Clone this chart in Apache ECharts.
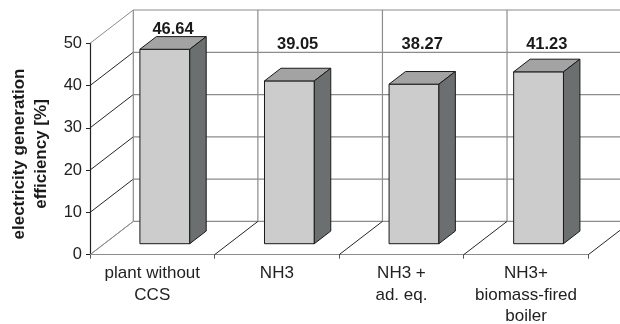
<!DOCTYPE html>
<html>
<head>
<meta charset="utf-8">
<script src="https://cdn.jsdelivr.net/npm/echarts@6/dist/echarts.min.js"></script>
<style>
  html, body { margin: 0; padding: 0; background: #ffffff; }
  #chart { width: 620px; height: 324px; }
</style>
</head>
<body>
<div id="chart"></div>
<script>
// Electricity generation efficiency per plant configuration
var categories = ['plant without\nCCS', 'NH3', 'NH3 +\nad. eq.', 'NH3+\nbiomass-fired\nboiler'];
var efficiency = [46.64, 39.05, 38.27, 41.23];
var yTicks = [0, 10, 20, 30, 40, 50];

var Y_MIN = 0, Y_MAX = 50, Y_STEP = 10;
var FONT = '"Liberation Sans", Arial, sans-serif';

// pseudo-3D box: depth vector of the plot box in pixels
var DEPTH = [43.3, -33.3];
// bar placement inside its category slot
var BAR_OFFSET = 0.286;   // fraction of slot width from slot left edge
var BAR_WIDTH = 0.40;     // fraction of slot width
var BAR_DEPTH_FRONT = 0.33;
var BAR_DEPTH = 0.38;
var BAR_SCALE = 0.986;    // slight shrink of bar height away from the front plane

var GRID_COLOR = '#8c8c8c';
var EDGE_DARK = '#262626';

function add(p, d, f) { return [p[0] + d[0] * f, p[1] + d[1] * f]; }

function line(a, b, color, w) {
  return {
    type: 'line',
    shape: { x1: a[0], y1: a[1], x2: b[0], y2: b[1] },
    style: { stroke: color, lineWidth: w || 1 },
    silent: true
  };
}

// back wall, side wall and floor of the box
function renderFrame(params, api) {
  var n = categories.length;
  var band = api.size([1, 0])[0];
  var left = api.coord([0, Y_MIN])[0] - band / 2;
  var right = left + n * band;
  var children = [];

  yTicks.forEach(function (t) {
    var y = api.coord([0, t])[1];
    var pFront = [left, y];
    var pBack = add(pFront, DEPTH, 1);
    var isEdge = (t === Y_MIN || t === Y_MAX);
    // back wall gridline
    children.push(line(pBack, [right + DEPTH[0], pBack[1]], GRID_COLOR, 1.2));
    // side wall gridline
    children.push(line(pFront, pBack, isEdge ? GRID_COLOR : EDGE_DARK, 1));
  });

  var yBottom = api.coord([0, Y_MIN])[1];
  var yTop = api.coord([0, Y_MAX])[1];
  for (var i = 0; i <= n; i++) {
    var x = left + i * band;
    // back wall vertical divider
    children.push(line(add([x, yBottom], DEPTH, 1), add([x, yTop], DEPTH, 1), GRID_COLOR, 1.2));
    // floor divider
    children.push(line([x, yBottom], add([x, yBottom], DEPTH, 1), i === 0 ? GRID_COLOR : EDGE_DARK, 1));
  }
  return { type: 'group', children: children };
}

function renderBar(params, api) {
  var i = api.value(0);
  var v = api.value(1);
  var band = api.size([1, 0])[0];
  var slotLeft = api.coord([i, Y_MIN])[0] - band / 2;
  var y0 = api.coord([i, Y_MIN])[1];
  var yv = api.coord([i, v])[1];
  var yTop = y0 - (y0 - yv) * BAR_SCALE;

  var x0 = slotLeft + band * BAR_OFFSET;
  var x1 = x0 + band * BAR_WIDTH;

  var fbl = add([x0, y0], DEPTH, BAR_DEPTH_FRONT);
  var fbr = add([x1, y0], DEPTH, BAR_DEPTH_FRONT);
  var ftl = add([x0, yTop], DEPTH, BAR_DEPTH_FRONT);
  var ftr = add([x1, yTop], DEPTH, BAR_DEPTH_FRONT);
  var btl = add(ftl, DEPTH, BAR_DEPTH);
  var btr = add(ftr, DEPTH, BAR_DEPTH);
  var bbr = add(fbr, DEPTH, BAR_DEPTH);

  var stroke = { stroke: '#1a1a1a', lineWidth: 1, lineJoin: 'miter' };
  function face(pts, fill) {
    return {
      type: 'polygon',
      shape: { points: pts },
      style: Object.assign({ fill: fill }, stroke)
    };
  }

  // value label above the bar, kept below the top of the scale unless the bar reaches it
  var labelX = (ftl[0] + btr[0]) / 2;
  var capY = api.coord([i, Y_MAX])[1] + 1;
  var labelY = Math.min(btl[1] - 7, capY);

  return {
    type: 'group',
    children: [
      face([fbl, fbr, ftr, ftl], '#cccccc'),
      face([ftl, ftr, btr, btl], '#a3a3a3'),
      face([fbr, bbr, btr, ftr], '#6b6f6f'),
      {
        type: 'text',
        style: {
          x: labelX,
          y: labelY,
          text: v.toFixed(2),
          fill: '#1a1a1a',
          font: 'bold 16.5px ' + FONT,
          align: 'center',
          verticalAlign: 'middle'
        }
      }
    ]
  };
}

var chart = echarts.init(document.getElementById('chart'), null, { renderer: 'canvas' });
chart.setOption({
  animation: false,
  backgroundColor: '#ffffff',
  grid: {
    left: 90, top: 43.3, width: 498.3, height: 211.4,
    containLabel: false,
    outerBoundsMode: 'none'
  },
  xAxis: {
    type: 'category',
    data: categories,
    boundaryGap: true,
    axisLine: { show: true, lineStyle: { color: '#8c8c8c', width: 1.2 } },
    axisTick: { show: true, length: 4, lineStyle: { color: '#555' } },
    axisLabel: {
      interval: 0,
      margin: 8,
      fontSize: 17,
      lineHeight: 21.5,
      color: '#222',
      fontFamily: FONT
    },
    splitLine: { show: false }
  },
  yAxis: {
    type: 'value',
    min: Y_MIN,
    max: Y_MAX,
    interval: Y_STEP,
    name: 'electricity generation\nefficiency [%]',
    nameLocation: 'middle',
    nameRotate: 90,
    nameGap: 37,
    nameTextStyle: {
      fontSize: 17,
      fontWeight: 'bold',
      lineHeight: 22,
      color: '#1a1a1a',
      fontFamily: FONT,
      padding: [0, 10, 0, 0]
    },
    axisLine: { show: true, lineStyle: { color: '#222', width: 1.2 } },
    axisTick: { show: true, length: 4, lineStyle: { color: '#222' } },
    axisLabel: { margin: 8, fontSize: 16.5, color: '#222', fontFamily: FONT },
    splitLine: { show: false }
  },
  series: [
    {
      type: 'custom',
      name: 'frame',
      renderItem: renderFrame,
      data: [[0, 0]],
      clip: false,
      silent: true,
      z: 1
    },
    {
      type: 'custom',
      name: 'efficiency',
      renderItem: renderBar,
      data: efficiency.map(function (v, i) { return [i, v]; }),
      encode: { x: 0, y: 1 },
      clip: false,
      z: 2
    }
  ]
});
</script>
</body>
</html>
